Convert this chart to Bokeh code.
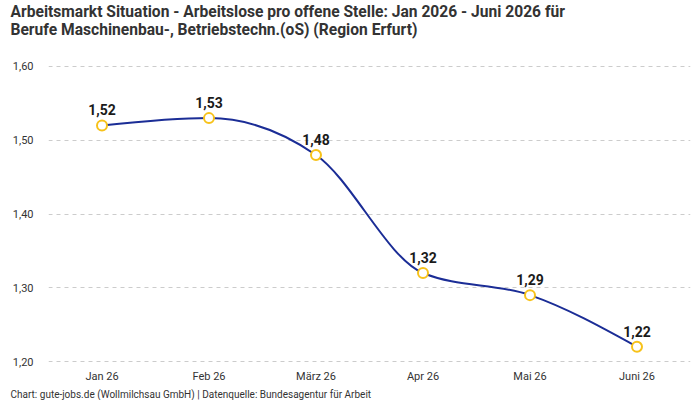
from bokeh.plotting import figure
from bokeh.models import Range1d, FixedTicker, CustomJSTickFormatter, Title, ColumnDataSource
from bokeh.core.properties import value
from bokeh.embed import file_html
from bokeh.resources import INLINE

months = ["Jan 26", "Feb 26", "März 26", "Apr 26", "Mai 26", "Juni 26"]
values = [1.52, 1.53, 1.48, 1.32, 1.29, 1.22]
value_labels = ["1,52", "1,53", "1,48", "1,32", "1,29", "1,22"]
y_ticks = [1.2, 1.3, 1.4, 1.5, 1.6]

title_line1 = "Arbeitsmarkt Situation - Arbeitslose pro offene Stelle: Jan 2026 - Juni 2026 für"
title_line2 = "Berufe Maschinenbau-, Betriebstechn.(oS) (Region Erfurt)"
footer = "Chart: gute-jobs.de (Wollmilchsau GmbH) | Datenquelle: Bundesagentur für Arbeit"

FONT = "Roboto"
LINE_COLOR = "#1b2d96"
MARK_COLOR = "#f7c21a"

xs = list(range(len(values)))

# monotone cubic (d3 monotoneX) tangents for the smooth line rendering
def sign(v):
    return (v > 0) - (v < 0)

n = len(values)
t = [0.0] * n
for i in range(1, n - 1):
    h0 = xs[i] - xs[i - 1]
    h1 = xs[i + 1] - xs[i]
    s0 = (values[i] - values[i - 1]) / h0
    s1 = (values[i + 1] - values[i]) / h1
    pm = (s0 * h1 + s1 * h0) / (h0 + h1)
    t[i] = (sign(s0) + sign(s1)) * min(abs(s0), abs(s1), 0.5 * abs(pm))
t[0] = (3 * (values[1] - values[0]) / (xs[1] - xs[0]) - t[1]) / 2
t[-1] = (3 * (values[-1] - values[-2]) / (xs[-1] - xs[-2]) - t[-2]) / 2

bz = dict(x0=[], y0=[], x1=[], y1=[], cx0=[], cy0=[], cx1=[], cy1=[])
for i in range(n - 1):
    dx = (xs[i + 1] - xs[i]) / 3
    bz["x0"].append(xs[i]); bz["y0"].append(values[i])
    bz["x1"].append(xs[i + 1]); bz["y1"].append(values[i + 1])
    bz["cx0"].append(xs[i] + dx); bz["cy0"].append(values[i] + dx * t[i])
    bz["cx1"].append(xs[i + 1] - dx); bz["cy1"].append(values[i + 1] - dx * t[i + 1])

p = figure(width=700, height=400, output_backend="svg", toolbar_location=None,
           x_range=Range1d(-0.5, len(months) - 0.5), y_range=Range1d(1.1973, 1.6027),
           min_border_left=48, min_border_right=10, min_border_top=0, min_border_bottom=36)
p.outline_line_color = None
p.background_fill_color = "white"

# spacer between title and plot frame
p.add_layout(Title(text=" ", text_font=FONT, text_font_size="1px", standoff=23), "above")
p.add_layout(Title(text=title_line1 + "\n" + title_line2, text_font=FONT, text_font_size="15.6px",
                   text_font_style="bold", text_color="#333333", offset=-38, standoff=0), "above")
p.add_layout(Title(text=footer, text_font=FONT, text_font_size="10px",
                   text_font_style="normal", text_color="#333333", offset=-38, standoff=2), "below")

p.xaxis.ticker = FixedTicker(ticks=xs)
p.xaxis.major_label_overrides = {i: m for i, m in enumerate(months)}
p.yaxis.ticker = FixedTicker(ticks=y_ticks)
p.yaxis.formatter = CustomJSTickFormatter(code="return tick.toFixed(2).replace('.', ',');")
for ax in (p.xaxis, p.yaxis):
    ax.axis_line_color = None
    ax.major_tick_line_color = None
    ax.minor_tick_line_color = None
    ax.major_tick_out = 0
    ax.major_tick_in = 0
    ax.minor_tick_out = 0
    ax.major_label_text_font = FONT
    ax.major_label_text_font_size = "11px"
    ax.major_label_text_color = "#333333"
p.xaxis.major_label_standoff = 6
p.yaxis.major_label_standoff = 15

p.xgrid.grid_line_color = None
p.ygrid.grid_line_color = "#cccccc"
p.ygrid.grid_line_dash = "4 4"

p.bezier(x0="x0", y0="y0", x1="x1", y1="y1", cx0="cx0", cy0="cy0", cx1="cx1", cy1="cy1",
         source=ColumnDataSource(bz), line_color=LINE_COLOR, line_width=2)

src = ColumnDataSource(dict(x=xs, y=values, label=value_labels))
p.scatter("x", "y", source=src, size=10, fill_color="white", line_color=MARK_COLOR, line_width=2)
p.text("x", "y", text="label", source=src, text_align="center", text_baseline="bottom",
       y_offset=-10, text_font=value(FONT), text_font_size="14px",
       text_color="#1a1a1a", text_font_style="bold")

open("out.html", "w").write(file_html(p, INLINE))
